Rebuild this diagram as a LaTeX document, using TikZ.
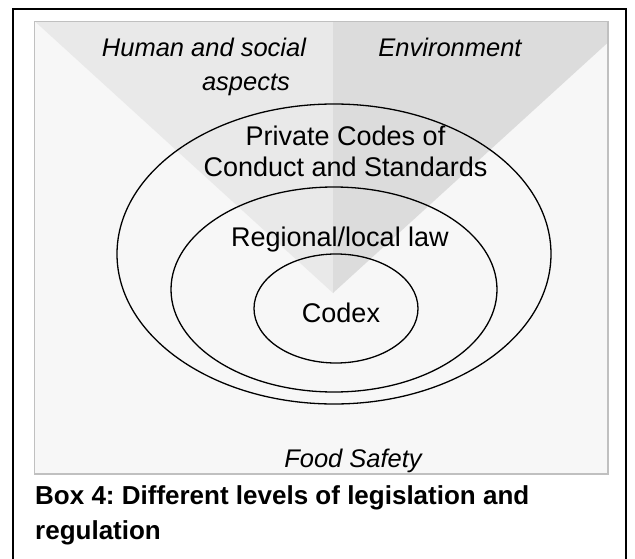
\documentclass[tikz,border=0pt]{standalone}
\usepackage{fontspec}
\setmainfont{Liberation Sans}
\frenchspacing
\definecolor{panelbg}{HTML}{F7F7F7}
\definecolor{panelline}{HTML}{C0C0C0}
\definecolor{wedgeL}{HTML}{E9E9E9}
\definecolor{wedgeR}{HTML}{DCDCDC}
\begin{document}
\begin{tikzpicture}[x=1pt, y=-1pt,
  ring/.style={draw=black, line width=1.3pt},
  lbl/.style={anchor=base, inner sep=0pt, align=center, font=\fontsize{27}{32}\selectfont},
  side/.style={anchor=base, inner sep=0pt, font=\fontsize{25.5}{30}\selectfont\itshape},
  boxcap/.style={anchor=north west, inner sep=0pt, align=left, font=\fontsize{26}{35}\selectfont\bfseries}
]
\useasboundingbox (0,0) rectangle (635,559);
\fill[white] (0,0) rectangle (635,559);
\draw[line width=2pt] (13,565) -- (13,9.5) -- (626,9.5) -- (626,565);
\begin{scope}
  \clip (34.5,21.5) rectangle (608,474);
  \fill[panelbg] (34.5,21.5) rectangle (608,474);
  \fill[wedgeL] (35,21.5) -- (333,21.5) -- (333,293) -- cycle;
  \fill[wedgeR] (333,21.5) -- (631,21.5) -- (333,293) -- cycle;
\end{scope}
\draw[panelline, line width=1.5pt] (34.5,21.5) rectangle (608,474);
\draw[ring] (334,254) ellipse [x radius=217pt, y radius=150pt];
\draw[ring] (334,289.5) ellipse [x radius=163pt, y radius=102.5pt];
\draw[ring] (336,308.5) ellipse [x radius=82pt, y radius=54.5pt];
\node[side] (human) at (204,57) {Human and social};
\node[side] (aspects) at (246,91) {aspects};
\node[side] (env) at (450,57) {Environment};
\node[lbl] (private) at (345.5,177) {Private Codes of\\Conduct and Standards};
\node[lbl] (regional) at (340,246) {Regional/local law};
\node[lbl] (codex) at (341,322) {Codex};
\node[side] (food) at (353,467) {Food Safety};
\node[boxcap] (caption) at (35,485) {Box 4: Different levels of legislation and\\regulation};
\end{tikzpicture}
\end{document}
